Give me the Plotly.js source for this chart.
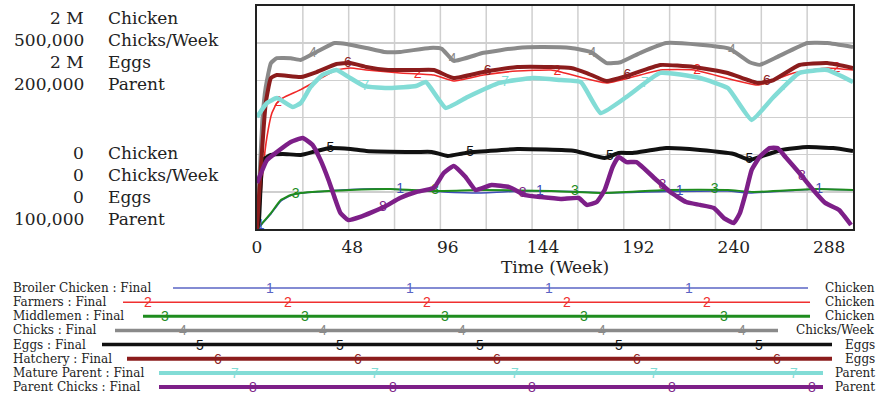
<!DOCTYPE html>
<html><head><meta charset="utf-8">
<script src="https://cdn.plot.ly/plotly-3.0.1.min.js"></script>
<style>html,body{margin:0;padding:0;background:#fff}#chart{width:880px;height:399px}</style>
</head><body><div id="chart"></div>
<script>
// ---- data ----
const seriesNames = ["Broiler Chicken","Farmers","Middlemen","Chicks","Eggs","Hatchery","Mature Parent","Parent Chicks"];
const seriesUnits = ["Chicken","Chicken","Chicken","Chicks/Week","Eggs","Eggs","Parent","Parent"];

const broilerT = [0,1,3,7,12,17,22,47,67,89,110,135,160,176,206,237,248,282,300];
const broilerV = [0,15000,55000,135000,250000,300000,320000,355000,359000,336000,323000,341000,336000,323000,336000,341000,323000,359000,350000];

const farmersT = [0,1,3,5,7.5,10,13,22,30,40,47,55,72,89,99,114,131,148,153,176,203,220,252,270,287,300];
const farmersV = [0,80000,530000,825000,1040000,1130000,1175000,1250000,1330000,1426000,1444000,1426000,1399000,1381000,1327000,1381000,1417000,1426000,1408000,1309000,1426000,1426000,1291000,1399000,1444000,1426000];

const middlemenT = [0,1,3,7,12,17,22,47,67,89,114,148,175,206,237,250,282,300];
const middlemenV = [0,18000,60000,143000,260000,305000,323000,350000,359000,341000,350000,341000,323000,350000,350000,332000,359000,350000];

const chicksT = [0,1,2.7,4.4,7,10,17,22,30,39,45,55,64,72,87,93,99,114,131,143,158,168,176,183,193,206,223,238,248,253,262,277,287,300];
const chicksV = [0,90000,244000,318000,372000,383000,383000,379000,397000,417000,415000,406000,397000,397000,406000,404000,377000,395000,406000,408000,406000,397000,372000,374000,395000,417000,413000,404000,374000,368000,386000,417000,417000,408000];

const eggsT = [0,1,3,7,13,22,30,37,47,55,80,88,96,105,131,160,175,182,189,206,223,240,248,253,264,277,290,300];
const eggsV = [0,80000,619000,664000,673000,664000,700000,726000,717000,700000,691000,691000,655000,682000,717000,700000,637000,682000,682000,726000,709000,673000,619000,646000,709000,735000,726000,700000];

const hatcheryT = [0,1.3,4.4,7,10,22,30,40,47,55,66,80,89,99,114,131,148,158,166,176,186,203,220,237,252,260,273,287,300];
const hatcheryV = [0,377000,1130000,1354000,1381000,1363000,1408000,1480000,1489000,1453000,1426000,1426000,1426000,1354000,1408000,1453000,1453000,1444000,1399000,1327000,1372000,1471000,1453000,1399000,1309000,1336000,1471000,1489000,1444000];

const matureT = [0,5,10,18,22,27,33,40,46,54,67,80,85,95,106,122,139,153,163,173,186,203,223,237,249,260,273,287,300];
const matureV = [150200,156500,158700,154700,156500,163700,169100,171300,168200,164100,163200,164100,165900,154300,159200,165500,167700,166800,165900,152000,159200,170000,167700,163200,148900,159200,170000,171300,165900];

const parentChicksT = [0,5,10,17,23,28,32,36,39,42,46,52,64,72,80,89,94,99,105,110,118,127,135,143,153,162,166,171,175,179,182,186,191,201,208,216,223,230,235,240,243,246,249,253,258,262,266,273,280,286,293,299];
const parentChicksV = [120600,130900,134500,139000,140800,137700,130900,122000,114300,107200,104000,105400,109900,113900,116600,118400,125100,128300,123300,117500,119700,118800,115200,114300,113500,113900,110800,112100,117500,127800,132300,130000,130000,122000,116600,112100,110800,109400,104900,102700,107000,116100,126500,132300,136300,136300,132300,125100,117500,111700,108500,101800];

const scaleUnits = ["Chicken","Chicks/Week","Eggs","Parent"];
const scaleMin = [0,0,0,100000];
const scaleMax = [2000000,500000,2000000,200000];
const scaleTopLabels = ["2 M","500,000","2 M","200,000"];
const scaleBottomLabels = ["0","0","0","100,000"];
const xTickLabels = [0,48,96,144,192,240,288];
const timeRange = [0,300];

// ---- styles ----
const colors = ["#3d4db8","#f02828","#1e8c1e","#8a8a8a","#111111","#8b1c1c","#82dcd6","#7d1f88"];
const legendColors = ["#5a64c4","#f03030","#1e8c1e","#8a8a8a","#111111","#8b1c1c","#82dcd6","#7d1f88"];
const widths = [1.5,1.6,2,4,4,4,4.5,4.5];
const legendWidths = [1.5,1.5,3,3.5,3.5,4,4,4];
const axisOf = {"Chicken":"y","Chicks/Week":"y2","Eggs":"y3","Parent":"y4"};

const T = [broilerT,farmersT,middlemenT,chicksT,eggsT,hatcheryT,matureT,parentChicksT];
const V = [broilerV,farmersV,middlemenV,chicksV,eggsV,hatcheryV,matureV,parentChicksV];

// pixel helpers for the plot frame (l=257, r=853, t=6, b=229)
const L=257, R=853, TOP=6, BOT=229;
const PX = p => (p-L)/(R-L);
const PY = p => (BOT-p)/(BOT-TOP);

function interp(ts, vs, t){
  for(let i=1;i<ts.length;i++){
    if(t<=ts[i]){const f=(t-ts[i-1])/(ts[i]-ts[i-1]);return vs[i-1]+f*(vs[i]-vs[i-1]);}
  }
  return vs[vs.length-1];
}

const traces = [];
for(let k=0;k<8;k++){
  const ya = axisOf[seriesUnits[k]];
  traces.push({x:T[k], y:V[k], type:'scatter', mode:'lines', yaxis:ya,
    line:{color:colors[k], width:widths[k], shape:'spline', smoothing:0.4}, name:seriesNames[k], hoverinfo:'skip'});
}
// number markers along each line (Vensim style)
for(let k=0;k<8;k++){
  const ya = axisOf[seriesUnits[k]];
  const xs=[], ys=[], tx=[];
  for(let n=0;n<6;n++){
    const t = 1.8 + 8.8*k + 70.3*n;
    if(t>timeRange[1]) break;
    xs.push(t); ys.push(interp(T[k],V[k],t)); tx.push(String(k+1));
  }
  traces.push({x:xs, y:ys, type:'scatter', mode:'text', text:tx, yaxis:ya,
    textfont:{family:'Liberation Sans, Arial, sans-serif', size:14, color:colors[k]},
    textposition:'middle center', hoverinfo:'skip', cliponaxis:false});
}

const shapes = [];
// vertical grid (13 divisions of the time axis)
for(let i=1;i<13;i++){
  const xv = timeRange[0] + (timeRange[1]-timeRange[0])*i/13;
  shapes.push({type:'line', xref:'x', yref:'paper', x0:xv, x1:xv, y0:0, y1:1, layer:'below',
    line:{color:'#cfcfcf', width:1.5}});
}
const annotations = [];
// scale labels on the left
const topRowsY = [18,40,62,84], botRowsY = [153,175,197,219];
for(let i=0;i<4;i++){
  annotations.push({xref:'paper',yref:'paper',x:PX(86),y:PY(topRowsY[i]),xanchor:'right',yanchor:'middle',showarrow:false,
    text:scaleTopLabels[i],font:{family:'DejaVu Serif, serif',size:17,color:'#222'}});
  annotations.push({xref:'paper',yref:'paper',x:PX(106),y:PY(topRowsY[i]),xanchor:'left',yanchor:'middle',showarrow:false,
    text:scaleUnits[i],font:{family:'DejaVu Serif, serif',size:17,color:'#222'}});
  annotations.push({xref:'paper',yref:'paper',x:PX(86),y:PY(botRowsY[i]),xanchor:'right',yanchor:'middle',showarrow:false,
    text:scaleBottomLabels[i],font:{family:'DejaVu Serif, serif',size:17,color:'#222'}});
  annotations.push({xref:'paper',yref:'paper',x:PX(106),y:PY(botRowsY[i]),xanchor:'left',yanchor:'middle',showarrow:false,
    text:scaleUnits[i],font:{family:'DejaVu Serif, serif',size:17,color:'#222'}});
}
// legend rows
const legStart=[173,123,143,115,102,127,159,159];
const legEnd=[808,810,810,778,832,832,823,823];
for(let k=0;k<8;k++){
  const ry = 288 + 14.15*k;
  annotations.push({xref:'paper',yref:'paper',x:PX(11),y:PY(ry),xanchor:'left',yanchor:'middle',showarrow:false,
    text:seriesNames[k]+' : Final',font:{family:'DejaVu Serif, serif',size:12,color:'#222'}});
  annotations.push({xref:'paper',yref:'paper',x:PX(877),y:PY(ry),xanchor:'right',yanchor:'middle',showarrow:false,
    text:seriesUnits[k],font:{family:'DejaVu Serif, serif',size:12,color:'#222'}});
  shapes.push({type:'line',xref:'paper',yref:'paper',x0:PX(legStart[k]),x1:PX(legEnd[k]),y0:PY(ry),y1:PY(ry),
    line:{color:legendColors[k],width:legendWidths[k]}});
  for(let n=0;n<7;n++){
    const p = 130.3 + 17.5*k + 139.7*n;
    if(p<legStart[k]) continue;
    if(p>legEnd[k]) break;
    annotations.push({xref:'paper',yref:'paper',x:PX(p),y:PY(ry),xanchor:'center',yanchor:'middle',showarrow:false,
      text:String(k+1),font:{family:'Liberation Sans, Arial, sans-serif',size:14,color:legendColors[k]}});
  }
}

const hidden = r => ({range:r, overlaying:'y', visible:false, fixedrange:true});
const layout = {
  width:880, height:399, margin:{l:L, r:880-R, t:TOP, b:399-BOT},
  paper_bgcolor:'#fff', plot_bgcolor:'#fff', showlegend:false,
  xaxis:{range:timeRange, tickmode:'array', tickvals:xTickLabels, ticktext:xTickLabels.map(String),
    showgrid:false, zeroline:false, showline:true, mirror:true, linecolor:'#222', linewidth:2,
    ticks:'outside', ticklen:2, tickcolor:'rgba(0,0,0,0)',
    tickfont:{family:'DejaVu Serif, serif', size:17, color:'#222'},
    title:{text:'Time (Week)', standoff:3, font:{family:'DejaVu Serif, serif', size:17, color:'#222'}}},
  yaxis:{range:[scaleMin[0],scaleMax[0]], tick0:0, dtick:(scaleMax[0]-scaleMin[0])/6, showticklabels:false,
    showgrid:true, gridcolor:'#cfcfcf', gridwidth:1.5, zeroline:false, showline:true, mirror:true,
    linecolor:'#222', linewidth:2, ticks:''},
  yaxis2:hidden([scaleMin[1],scaleMax[1]]),
  yaxis3:hidden([scaleMin[2],scaleMax[2]]),
  yaxis4:hidden([scaleMin[3],scaleMax[3]]),
  shapes:shapes, annotations:annotations
};
Plotly.newPlot('chart', traces, layout, {staticPlot:true, displayModeBar:false});
</script></body></html>
